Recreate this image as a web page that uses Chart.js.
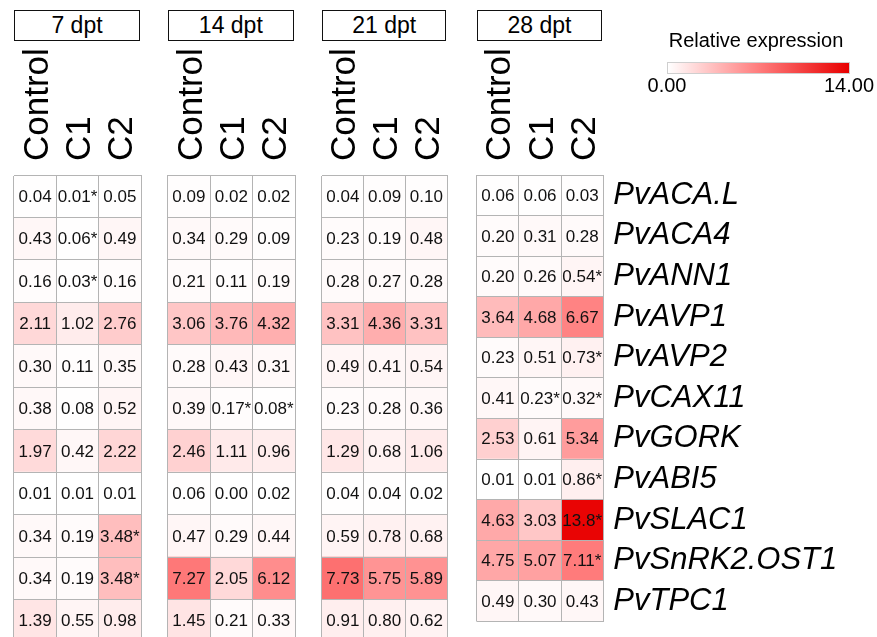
<!DOCTYPE html>
<html>
<head>
<meta charset="utf-8">
<script src="https://cdn.jsdelivr.net/npm/chart.js@4/dist/chart.umd.min.js"></script>
<style>
  html, body { margin: 0; padding: 0; background: #fff; }
  body { width: 877px; height: 637px; overflow: hidden; position: relative;
         font-family: 'Liberation Sans', Arial, sans-serif; color: #000; }
  .tag { position: absolute; top: 10px; height: 29px; border: 1.5px solid #111;
         font-size: 23px; line-height: 29px; text-align: center; }
  canvas { position: absolute; top: 0; }
  .lg-title { position: absolute; left: 640px; width: 232px; top: 30px; font-size: 20px;
              line-height: 20px; text-align: center; }
  .lg-bar { position: absolute; left: 667px; top: 62px; width: 181px; height: 10px;
            border: 1px solid #cfcfcf; }
  .lg-tick { position: absolute; top: 75px; font-size: 20px; line-height: 20px; width: 60px;
             text-align: center; }
</style>
</head>
<body>
<div id="root"></div>
<script>
// Genes (rows), treatments (columns) and sampling times (panels)
const genes = ['PvACA.L', 'PvACA4', 'PvANN1', 'PvAVP1', 'PvAVP2', 'PvCAX11',
               'PvGORK', 'PvABI5', 'PvSLAC1', 'PvSnRK2.OST1', 'PvTPC1'];
const treatments = ['Control', 'C1', 'C2'];
const timepoints = ['7 dpt', '14 dpt', '21 dpt', '28 dpt'];

// Relative expression, one row per gene: [Control, C1, C2]
const expr7dpt = [
  [0.04, 0.01, 0.05], [0.43, 0.06, 0.49], [0.16, 0.03, 0.16], [2.11, 1.02, 2.76],
  [0.30, 0.11, 0.35], [0.38, 0.08, 0.52], [1.97, 0.42, 2.22], [0.01, 0.01, 0.01],
  [0.34, 0.19, 3.48], [0.34, 0.19, 3.48], [1.39, 0.55, 0.98]
];
const expr14dpt = [
  [0.09, 0.02, 0.02], [0.34, 0.29, 0.09], [0.21, 0.11, 0.19], [3.06, 3.76, 4.32],
  [0.28, 0.43, 0.31], [0.39, 0.17, 0.08], [2.46, 1.11, 0.96], [0.06, 0.00, 0.02],
  [0.47, 0.29, 0.44], [7.27, 2.05, 6.12], [1.45, 0.21, 0.33]
];
const expr21dpt = [
  [0.04, 0.09, 0.10], [0.23, 0.19, 0.48], [0.28, 0.27, 0.28], [3.31, 4.36, 3.31],
  [0.49, 0.41, 0.54], [0.23, 0.28, 0.36], [1.29, 0.68, 1.06], [0.04, 0.04, 0.02],
  [0.59, 0.78, 0.68], [7.73, 5.75, 5.89], [0.91, 0.80, 0.62]
];
const expr28dpt = [
  [0.06, 0.06, 0.03], [0.20, 0.31, 0.28], [0.20, 0.26, 0.54], [3.64, 4.68, 6.67],
  [0.23, 0.51, 0.73], [0.41, 0.23, 0.32], [2.53, 0.61, 5.34], [0.01, 0.01, 0.86],
  [4.63, 3.03, 13.8], [4.75, 5.07, 7.11], [0.49, 0.30, 0.43]
];

// Significance flags (1 = marked with an asterisk)
const sig7dpt = [
  [0, 1, 0], [0, 1, 0], [0, 1, 0], [0, 0, 0], [0, 0, 0], [0, 0, 0],
  [0, 0, 0], [0, 0, 0], [0, 0, 1], [0, 0, 1], [0, 0, 0]
];
const sig14dpt = [
  [0, 0, 0], [0, 0, 0], [0, 0, 0], [0, 0, 0], [0, 0, 0], [0, 1, 1],
  [0, 0, 0], [0, 0, 0], [0, 0, 0], [0, 0, 0], [0, 0, 0]
];
const sig21dpt = [
  [0, 0, 0], [0, 0, 0], [0, 0, 0], [0, 0, 0], [0, 0, 0], [0, 0, 0],
  [0, 0, 0], [0, 0, 0], [0, 0, 0], [0, 0, 0], [0, 0, 0]
];
const sig28dpt = [
  [0, 0, 0], [0, 0, 0], [0, 0, 1], [0, 0, 0], [0, 0, 1], [0, 1, 1],
  [0, 0, 0], [0, 0, 1], [0, 0, 1], [0, 0, 1], [0, 0, 0]
];

// Colour scale range
const scaleMin = 0;
const scaleMax = 14;
const colorStops = [
  [0.0, [255, 255, 255]],
  [0.5, [255, 125, 125]],
  [1.0, [232, 0, 0]]
];

function colorFor(v) {
  const t = Math.min(1, Math.max(0, (v - scaleMin) / (scaleMax - scaleMin)));
  for (let i = 1; i < colorStops.length; i++) {
    const [t1, c1] = colorStops[i];
    const [t0, c0] = colorStops[i - 1];
    if (t <= t1) {
      const f = (t - t0) / (t1 - t0);
      const c = c0.map((a, k) => Math.round(a + (c1[k] - a) * f));
      return `rgb(${c[0]},${c[1]},${c[2]})`;
    }
  }
  const c = colorStops[colorStops.length - 1][1];
  return `rgb(${c[0]},${c[1]},${c[2]})`;
}

function formatValue(v, star) {
  return (v >= 10 ? v.toFixed(1) : v.toFixed(2)) + (star ? '*' : '');
}

const FONT = "'Liberation Sans', Arial, sans-serif";
const GRID = '#b4b4b4';

// Writes the value of each cell in its centre
const cellText = {
  id: 'cellText',
  afterDatasetsDraw(chart) {
    const ctx = chart.ctx;
    ctx.save();
    ctx.font = `17px ${FONT}`;
    ctx.fillStyle = '#111';
    ctx.textAlign = 'center';
    ctx.textBaseline = 'middle';
    chart.data.datasets.forEach((ds, di) => {
      chart.getDatasetMeta(di).data.forEach((bar, ri) => {
        const p = bar.getCenterPoint();
        ctx.fillText(formatValue(ds.values[ri], ds.stars[ri]), p.x, p.y + 1);
      });
    });
    ctx.restore();
  }
};

// Upright column headers above each column of the top category axis
const columnHeaders = {
  id: 'columnHeaders',
  afterDraw(chart) {
    const scale = chart.scales.xTop;
    const ctx = chart.ctx;
    const size = 35;
    ctx.save();
    ctx.font = `${size}px ${FONT}`;
    ctx.fillStyle = '#000';
    ctx.textAlign = 'left';
    ctx.textBaseline = 'alphabetic';
    scale.getLabels().forEach((label, i) => {
      const x = scale.getPixelForValue(i) + size * 0.36;
      const y = chart.chartArea.top - 14;
      ctx.save();
      ctx.translate(x, y);
      ctx.rotate(-Math.PI / 2);
      ctx.fillText(label, 0, 0);
      ctx.restore();
    });
    ctx.restore();
  }
};

const panels = [
  { expr: expr7dpt, sig: sig7dpt, left: 14, right: 141 },
  { expr: expr14dpt, sig: sig14dpt, left: 167.7, right: 295 },
  { expr: expr21dpt, sig: sig21dpt, left: 322, right: 447.3 },
  { expr: expr28dpt, sig: sig28dpt, left: 476.7, right: 603.3 }
];

const root = document.getElementById('root');
const PAD = 6;
const HEADER = 175;
const CANVAS_H = 650;
const BOTTOM_PAD = CANVAS_H - 642;

panels.forEach((p, pi) => {
  const last = pi === panels.length - 1;
  const tag = document.createElement('div');
  tag.className = 'tag';
  tag.style.left = p.left + 'px';
  tag.style.width = (p.right - p.left - 3) + 'px';
  tag.textContent = timepoints[pi];
  root.appendChild(tag);

  const cLeft = Math.floor(p.left) - PAD;
  const padLeft = p.left - cLeft;
  const cWidth = last ? 877 - cLeft : Math.ceil(p.right) + PAD - cLeft;
  const padRight = last ? 0 : cWidth - (p.right - cLeft);
  const axisWidth = last ? cWidth - (p.right - cLeft) : 0;

  const canvas = document.createElement('canvas');
  canvas.width = cWidth;
  canvas.height = CANVAS_H;
  canvas.style.left = cLeft + 'px';
  root.appendChild(canvas);

  const datasets = treatments.map((t, ti) => ({
    label: t,
    data: genes.map(() => [ti, ti + 1]),
    values: p.expr.map(r => r[ti]),
    stars: p.sig.map(r => r[ti]),
    backgroundColor: p.expr.map(r => colorFor(r[ti])),
    borderWidth: 0,
    grouped: false,
    barPercentage: 1,
    categoryPercentage: 1
  }));

  new Chart(canvas, {
    type: 'bar',
    data: { labels: genes, datasets },
    plugins: [cellText, columnHeaders],
    options: {
      responsive: false,
      animation: false,
      indexAxis: 'y',
      layout: { padding: { left: padLeft, right: padRight, top: 0, bottom: BOTTOM_PAD } },
      plugins: { legend: { display: false }, tooltip: { enabled: false }, title: { display: false } },
      scales: {
        x: { type: 'linear', min: 0, max: treatments.length, display: false },
        xTop: {
          type: 'category',
          labels: treatments,
          position: 'top',
          offset: true,
          grid: { offset: true, color: GRID, drawTicks: false, z: 1 },
          border: { color: GRID, z: 1 },
          ticks: { display: false },
          afterFit(scale) { scale.height = HEADER; }
        },
        y: {
          type: 'category',
          position: 'right',
          offset: true,
          grid: { offset: true, color: GRID, drawTicks: false, z: 1 },
          border: { color: GRID, z: 1 },
          ticks: {
            display: last, color: '#000', padding: 10, autoSkip: false,
            font: { family: FONT, size: 31, style: 'italic' }
          },
          afterFit(scale) { scale.width = axisWidth; }
        }
      }
    }
  });
});

// Colour key
const lg = document.createElement('div');
lg.innerHTML = '<div class="lg-title">Relative expression</div>' +
  '<div class="lg-bar" id="lgbar"></div>' +
  `<div class="lg-tick" style="left:637px">${scaleMin.toFixed(2)}</div>` +
  `<div class="lg-tick" style="left:819px">${scaleMax.toFixed(2)}</div>`;
root.appendChild(lg);
document.getElementById('lgbar').style.background =
  'linear-gradient(to right, ' +
  colorStops.map(([t]) => `${colorFor(scaleMin + t * (scaleMax - scaleMin))} ${t * 100}%`).join(', ') + ')';
</script>
</body>
</html>
